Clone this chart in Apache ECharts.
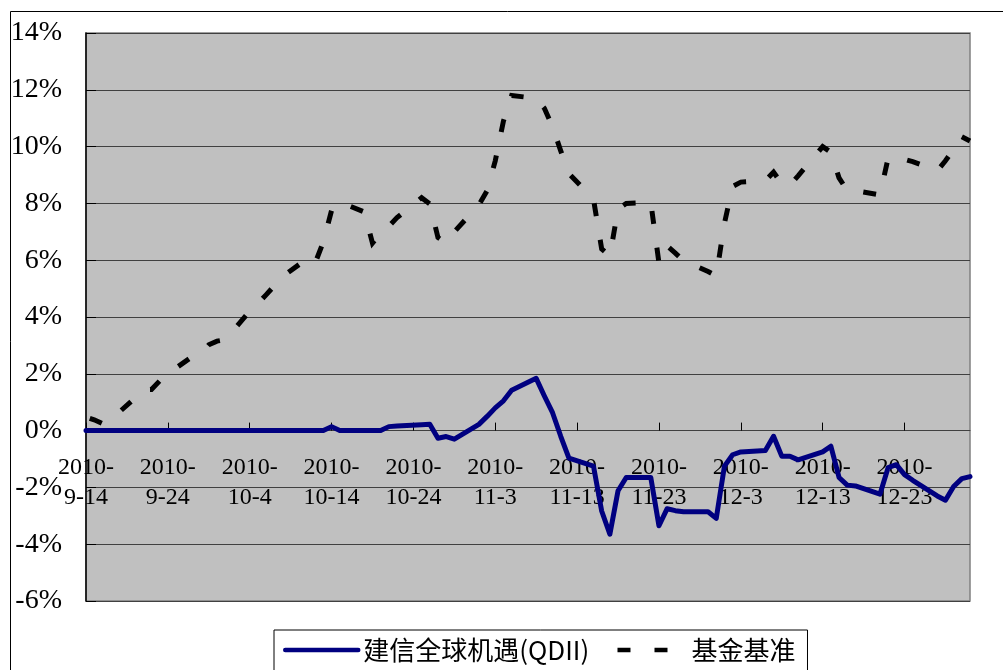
<!DOCTYPE html>
<html>
<head>
<meta charset="utf-8">
<script src="https://cdn.jsdelivr.net/npm/echarts@6/dist/echarts.min.js"></script>
<style>
html,body{margin:0;padding:0;background:#fff;}
#chart{width:1003px;height:670px;}
</style>
</head>
<body>
<div id="chart"></div>
<script>
// ---- data (values in %) ----
const startDate = '2010-09-14';
const endDate = '2010-12-31';
const tickDates = ['2010-09-14','2010-09-24','2010-10-04','2010-10-14','2010-10-24','2010-11-03','2010-11-13','2010-11-23','2010-12-03','2010-12-13','2010-12-23'];
const tickLabels = ['2010-\n9-14','2010-\n9-24','2010-\n10-4','2010-\n10-14','2010-\n10-24','2010-\n11-3','2010-\n11-13','2010-\n11-23','2010-\n12-3','2010-\n12-13','2010-\n12-23'];
const yTicks = [-6,-4,-2,0,2,4,6,8,10,12,14];
const seriesNames = ['建信全球机遇(QDII)','基金基准'];

const fundDates = ['2010-09-14','2010-09-15','2010-09-16','2010-09-17','2010-09-20','2010-09-21','2010-09-22','2010-09-23','2010-09-24','2010-09-27','2010-09-28','2010-09-29','2010-09-30','2010-10-01','2010-10-04','2010-10-05','2010-10-06','2010-10-07','2010-10-08','2010-10-11','2010-10-12','2010-10-13','2010-10-14','2010-10-15','2010-10-18','2010-10-19','2010-10-20','2010-10-21','2010-10-22','2010-10-25','2010-10-26','2010-10-27','2010-10-28','2010-10-29','2010-11-01','2010-11-02','2010-11-03','2010-11-04','2010-11-05','2010-11-08','2010-11-09','2010-11-10','2010-11-11','2010-11-12','2010-11-15','2010-11-16','2010-11-17','2010-11-18','2010-11-19','2010-11-22','2010-11-23','2010-11-24','2010-11-25','2010-11-26','2010-11-29','2010-11-30','2010-12-01','2010-12-02','2010-12-03','2010-12-06','2010-12-07','2010-12-08','2010-12-09','2010-12-10','2010-12-13','2010-12-14','2010-12-15','2010-12-16','2010-12-17','2010-12-20','2010-12-21','2010-12-22','2010-12-23','2010-12-24','2010-12-27','2010-12-28','2010-12-29','2010-12-30','2010-12-31'];
const fundValues = [0,0,0,0,0,0,0,0,0,0,0,0,0,0,0,0,0,0,0,0,0,0,0.14,0,0,0,0,0.14,0.16,0.21,0.22,-0.27,-0.21,-0.3,0.22,0.5,0.8,1.05,1.42,1.84,1.22,0.63,-0.2,-0.97,-1.25,-2.83,-3.65,-2.12,-1.65,-1.65,-3.35,-2.75,-2.82,-2.86,-2.86,-3.09,-1.25,-0.85,-0.75,-0.7,-0.2,-0.9,-0.9,-1.03,-0.75,-0.55,-1.65,-1.92,-1.95,-2.24,-1.3,-1.2,-1.55,-1.75,-2.3,-2.45,-1.97,-1.69,-1.62];

const benchDates = ['2010-09-14','2010-09-15','2010-09-16','2010-09-17','2010-09-20','2010-09-21','2010-09-22','2010-09-23','2010-09-24','2010-09-27','2010-09-28','2010-09-29','2010-09-30','2010-10-01','2010-10-04','2010-10-05','2010-10-06','2010-10-07','2010-10-08','2010-10-11','2010-10-12','2010-10-13','2010-10-14','2010-10-15','2010-10-18','2010-10-19','2010-10-20','2010-10-21','2010-10-22','2010-10-25','2010-10-26','2010-10-27','2010-10-28','2010-10-29','2010-11-01','2010-11-02','2010-11-03','2010-11-04','2010-11-05','2010-11-08','2010-11-09','2010-11-10','2010-11-11','2010-11-12','2010-11-15','2010-11-16','2010-11-17','2010-11-18','2010-11-19','2010-11-22','2010-11-23','2010-11-24','2010-11-25','2010-11-26','2010-11-29','2010-11-30','2010-12-01','2010-12-02','2010-12-03','2010-12-06','2010-12-07','2010-12-08','2010-12-09','2010-12-10','2010-12-13','2010-12-14','2010-12-15','2010-12-16','2010-12-17','2010-12-20','2010-12-21','2010-12-22','2010-12-23','2010-12-24','2010-12-27','2010-12-28','2010-12-29','2010-12-30','2010-12-31'];
const benchValues = [0.48,0.38,0.25,0.38,1.15,1.45,1.45,1.75,2.0,2.61,2.7,3.02,3.15,3.2,4.2,4.47,4.78,5.1,5.42,6.05,5.9,6.65,7.75,8.05,7.7,6.6,6.95,7.2,7.5,8.2,7.98,6.8,6.6,7.0,7.95,8.45,9.5,10.9,11.8,11.7,11.35,10.7,9.85,9.05,8.15,6.4,6.15,7.8,8.0,8.04,5.9,6.5,6.25,5.98,5.6,5.45,7.3,8.6,8.75,8.8,9.1,8.7,8.65,8.97,10.0,9.8,8.9,8.45,8.45,8.3,9.6,9.6,9.55,9.47,9.15,9.5,9.9,10.35,10.2];

// ---- helpers ----
const DAY = 86400000;
function dayOf(d){ return Math.round((Date.parse(d+'T00:00:00Z') - Date.parse(startDate+'T00:00:00Z'))/DAY); }
const tickDays = tickDates.map(dayOf);
const fundData = fundDates.map((d,i)=>[dayOf(d), fundValues[i]]);
const benchData = benchDates.map((d,i)=>[dayOf(d), benchValues[i]]);

const GRID_H = 568;
const yMin = yTicks[0], yMax = yTicks[yTicks.length-1];
const xAxisOffset = -((0 - yMin)/(yMax - yMin))*GRID_H; // put the date axis on the 0% line

const serif = '"Liberation Serif", "Times New Roman", serif';
const cjk = '"Noto Sans CJK SC", "Noto Sans", sans-serif';

const chart = echarts.init(document.getElementById('chart'), null, {renderer:'canvas'});
chart.setOption({
  backgroundColor:'#ffffff',
  animation:false,
  graphic:[{
    type:'rect', silent:true, z:-10,
    shape:{x:10.5, y:11.5, width:1200, height:900},
    style:{fill:'transparent', stroke:'#000', lineWidth:1}
  }],
  grid:{
    left:86, top:33, width:884, height:GRID_H,
    containLabel:false, outerBoundsMode:'none',
    show:true, backgroundColor:'#c0c0c0', borderColor:'#808080', borderWidth:1.5
  },
  legend:{
    left:274, top:630,
    padding:[7,12,20,9],
    itemGap:22, itemWidth:73, itemHeight:25,
    borderColor:'#000', borderWidth:1, backgroundColor:'#fff',
    textStyle:{fontFamily:cjk, fontSize:26, color:'#000'},
    itemStyle:{color:'rgba(0,0,0,0)', borderWidth:0, opacity:0},
    lineStyle:{width:4.5},
    data:seriesNames
  },
  xAxis:{
    type:'value', min:0, max:dayOf(endDate),
    position:'bottom', offset:xAxisOffset,
    axisLine:{show:true, onZero:false, lineStyle:{color:'#404040', width:1}},
    axisTick:{show:true, inside:true, length:8, customValues:tickDays, lineStyle:{color:'#000', width:1}},
    axisLabel:{
      customValues:tickDays, margin:22,
      fontFamily:serif, fontSize:24, lineHeight:30, color:'#000',
      formatter:function(v){ const i = tickDays.indexOf(v); return i>=0 ? tickLabels[i] : ''; }
    },
    splitLine:{show:false}
  },
  yAxis:{
    type:'value', min:yMin, max:yMax, interval:2,
    axisLine:{show:true, onZero:false, lineStyle:{color:'#000', width:1.5}},
    axisTick:{show:true, inside:true, length:10, lineStyle:{color:'#000', width:1}},
    axisLabel:{margin:24, padding:[6,0,0,0], fontFamily:serif, fontSize:28, color:'#000', formatter:'{value}%'},
    splitLine:{show:true, lineStyle:{color:'#404040', width:1}}
  },
  series:[
    {
      name:seriesNames[0], type:'line', data:fundData,
      symbol:'none', showSymbol:false,
      lineStyle:{color:'#000080', width:5, cap:'round', join:'round'},
      itemStyle:{color:'#000080'},
      z:3
    },
    {
      name:seriesNames[1], type:'line', data:benchData,
      symbol:'none', showSymbol:false,
      lineStyle:{color:'#000', width:5, type:[13,24], dashOffset:-4, cap:'butt', join:'miter'},
      itemStyle:{color:'#000'},
      z:2
    }
  ]
});
</script>
</body>
</html>
